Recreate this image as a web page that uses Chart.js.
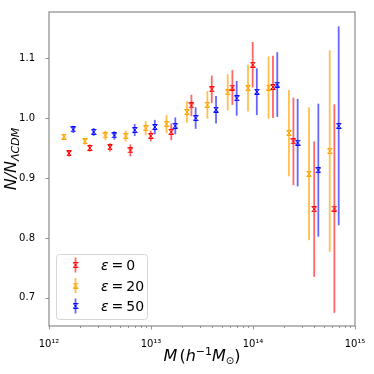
<!DOCTYPE html>
<html>
<head>
<meta charset="utf-8">
<script src="https://cdn.jsdelivr.net/npm/chart.js@4.4.1/dist/chart.umd.min.js"></script>
<style>
  html, body { margin: 0; padding: 0; background: #fff; }
</style>
</head>
<body>
<canvas id="chart" width="374" height="374"></canvas>
<script>
// values
const epsilons = [0, 20, 50];

const massEps0 = [1.57e12, 2.51e12, 3.96e12, 6.28e12, 9.93e12, 1.58e13, 2.49e13, 3.94e13, 6.28e13, 9.93e13, 1.57e14, 2.49e14, 3.98e14, 6.28e14];
const ratioEps0 = [0.941, 0.950, 0.951, 0.946, 0.970, 0.977, 1.021, 1.048, 1.051, 1.089, 1.052, 0.961, 0.848, 0.849];
const errEps0 = [0.0055, 0.006, 0.007, 0.010, 0.009, 0.014, 0.018, 0.023, 0.029, 0.038, 0.052, 0.073, 0.113, 0.174];

const massEps20 = [1.40e12, 2.25e12, 3.57e12, 5.65e12, 8.87e12, 1.42e13, 2.25e13, 3.57e13, 5.65e13, 8.93e13, 1.42e14, 2.25e14, 3.54e14, 5.65e14];
const ratioEps20 = [0.969, 0.961, 0.971, 0.970, 0.983, 0.990, 1.010, 1.022, 1.043, 1.050, 1.051, 0.975, 0.907, 0.945];
const errEps20 = [0.005, 0.0055, 0.008, 0.009, 0.012, 0.015, 0.018, 0.023, 0.030, 0.039, 0.052, 0.072, 0.111, 0.168];

const massEps50 = [1.73e12, 2.74e12, 4.37e12, 6.92e12, 1.09e13, 1.73e13, 2.74e13, 4.34e13, 6.92e13, 1.09e14, 1.73e14, 2.74e14, 4.37e14, 6.92e14];
const ratioEps50 = [0.981, 0.977, 0.971, 0.980, 0.985, 0.987, 1.000, 1.014, 1.033, 1.044, 1.056, 0.959, 0.913, 0.987];
const errEps50 = [0.006, 0.0065, 0.007, 0.010, 0.012, 0.014, 0.018, 0.023, 0.029, 0.039, 0.054, 0.073, 0.111, 0.166];

const yTicks = [0.7, 0.8, 0.9, 1.0, 1.1];
const xDecades = [1e12, 1e13, 1e14, 1e15];
const xTickLabels = ['10\u00B9\u00B2', '10\u00B9\u00B3', '10\u00B9\u2074', '10\u00B9\u2075'];

const markerColors = ['#ff0000', '#ffa500', '#0000ff'];
const barColors = ['rgba(255,0,0,0.6)', 'rgba(255,165,0,0.7)', 'rgba(0,0,255,0.6)'];
const FRAME = '#8a8a8a';
const FONT = '"DejaVu Sans", sans-serif';

function makeMarker(color) {
    const c = document.createElement('canvas');
    c.width = 6;
    c.height = 6;
    const g = c.getContext('2d');
    g.strokeStyle = color;
    g.lineWidth = 1;
    g.beginPath();
    g.moveTo(1, 1); g.lineTo(5, 5);
    g.moveTo(5, 1); g.lineTo(1, 5);
    g.moveTo(0.5, 0.5); g.lineTo(5.5, 0.5);
    g.moveTo(0.5, 5.5); g.lineTo(5.5, 5.5);
    g.stroke();
    return c;
}

function buildDataset(i, mass, ratio, err) {
    return {
        label: 'ε = ' + epsilons[i],
        data: mass.map((m, k) => ({ x: m, y: ratio[k] })),
        errors: err,
        barColor: barColors[i],
        pointStyle: makeMarker(markerColors[i]),
        pointRadius: 3,
        borderColor: markerColors[i],
        backgroundColor: markerColors[i],
        showLine: false
    };
}

// draw parts of mixed-style text one after another
function drawRich(ctx, parts, x, y, align) {
    let total = 0;
    parts.forEach(p => { ctx.font = p.font; p.w = ctx.measureText(p.t).width; total += p.w + (p.gap || 0); });
    let cx = align === 'center' ? x - total / 2 : x;
    ctx.textBaseline = 'alphabetic';
    ctx.textAlign = 'left';
    parts.forEach(p => {
        ctx.font = p.font;
        ctx.fillText(p.t, cx, y + (p.dy || 0));
        cx += p.w + (p.gap || 0);
    });
}

const errorBarPlugin = {
    id: 'errorBars',
    beforeDatasetsDraw(chart) {
        const ctx = chart.ctx;
        const xs = chart.scales.x, ys = chart.scales.y;
        ctx.save();
        chart.data.datasets.forEach(ds => {
            ctx.strokeStyle = ds.barColor;
            ctx.lineWidth = 1.8;
            ds.data.forEach((p, k) => {
                const px = xs.getPixelForValue(p.x);
                ctx.beginPath();
                ctx.moveTo(px, ys.getPixelForValue(p.y - ds.errors[k]));
                ctx.lineTo(px, ys.getPixelForValue(p.y + ds.errors[k]));
                ctx.stroke();
            });
        });
        ctx.restore();
    }
};

const framePlugin = {
    id: 'frame',
    afterDraw(chart) {
        const ctx = chart.ctx;
        const a = chart.chartArea;
        const xs = chart.scales.x, ys = chart.scales.y;
        ctx.save();
        ctx.strokeStyle = FRAME;
        ctx.lineWidth = 1.2;
        ctx.strokeRect(a.left, a.top, a.right - a.left, a.bottom - a.top);

        // tick marks
        ctx.lineWidth = 0.9;
        ctx.beginPath();
        for (let d = 1e12; d < 1e15; d *= 10) {
            for (let k = 1; k <= 9; k++) {
                const px = Math.round(xs.getPixelForValue(d * k)) + 0.5;
                ctx.moveTo(px, a.bottom);
                ctx.lineTo(px, a.bottom + (k === 1 ? 3.5 : 2));
            }
        }
        const pEnd = Math.round(xs.getPixelForValue(1e15)) + 0.5;
        ctx.moveTo(pEnd, a.bottom);
        ctx.lineTo(pEnd, a.bottom + 3.5);
        yTicks.forEach(v => {
            const py = Math.round(ys.getPixelForValue(v)) + 0.5;
            ctx.moveTo(a.left, py);
            ctx.lineTo(a.left - 3.5, py);
        });
        ctx.stroke();

        // axis titles
        ctx.fillStyle = '#000';
        drawRich(ctx, [
            { t: 'M', font: 'italic 16px ' + FONT, gap: 2 },
            { t: '(', font: '16px ' + FONT },
            { t: 'h', font: 'italic 16px ' + FONT },
            { t: '\u22121', font: '11px ' + FONT, dy: -6 },
            { t: 'M', font: 'italic 16px ' + FONT },
            { t: '\u2299', font: '10px ' + FONT, dy: 3 },
            { t: ')', font: '16px ' + FONT }
        ], (a.left + a.right) / 2, 361, 'center');

        ctx.save();
        ctx.translate(16, (a.top + a.bottom) / 2 - 10);
        ctx.rotate(-Math.PI / 2);
        drawRich(ctx, [
            { t: 'N/N', font: 'italic 16px ' + FONT },
            { t: '\u039BCDM', font: 'italic 11px ' + FONT, dy: 3 }
        ], 0, 0, 'center');
        ctx.restore();

        // legend
        const lx = 56, ly = 254, lw = 91, lh = 65;
        ctx.fillStyle = 'rgba(255,255,255,0.85)';
        ctx.strokeStyle = '#d6d6d6';
        ctx.lineWidth = 1;
        ctx.beginPath();
        ctx.roundRect(lx + 0.5, ly + 0.5, lw, lh, 3);
        ctx.fill();
        ctx.stroke();
        chart.data.datasets.forEach((ds, i) => {
            const cy = ly + 11 + i * 20.5;
            ctx.strokeStyle = ds.barColor;
            ctx.lineWidth = 1.8;
            ctx.beginPath();
            ctx.moveTo(75.5, cy - 7.5);
            ctx.lineTo(75.5, cy + 7.5);
            ctx.stroke();
            ctx.drawImage(ds.pointStyle, 75.5 - 3, cy - 3);
            ctx.fillStyle = '#000';
            drawRich(ctx, [
                { t: 'ε', font: 'italic 14px ' + FONT, gap: 3 },
                { t: '=', font: '14px ' + FONT, gap: 3 },
                { t: String(epsilons[i]), font: '14px ' + FONT }
            ], 101, cy + 5, 'left');
        });
        ctx.restore();
    }
};

new Chart(document.getElementById('chart'), {
    type: 'scatter',
    data: {
        datasets: [
            buildDataset(0, massEps0, ratioEps0, errEps0),
            buildDataset(1, massEps20, ratioEps20, errEps20),
            buildDataset(2, massEps50, ratioEps50, errEps50)
        ]
    },
    options: {
        responsive: false,
        animation: false,
        devicePixelRatio: 1,
        layout: { padding: { left: 0, right: 19, top: 9, bottom: 0 } },
        plugins: {
            legend: { display: false },
            tooltip: { enabled: false }
        },
        scales: {
            x: {
                type: 'logarithmic',
                min: 1e12,
                max: 1e15,
                grid: { display: false },
                border: { display: false },
                afterBuildTicks: (scale) => {
                    const t = [];
                    for (let d = 1e12; d < 1e15; d *= 10) {
                        for (let k = 1; k <= 9; k++) t.push({ value: d * k });
                    }
                    t.push({ value: 1e15 });
                    scale.ticks = t;
                },
                afterFit: (scale) => { scale.height = 48; },
                ticks: {
                    autoSkip: false,
                    maxRotation: 0,
                    padding: 4,
                    color: '#000',
                    font: { family: FONT, size: 10 },
                    callback: (v) => {
                        const i = xDecades.indexOf(v);
                        return i >= 0 ? xTickLabels[i] : '';
                    }
                }
            },
            y: {
                min: 0.653,
                max: 1.177,
                grid: { display: false },
                border: { display: false },
                afterBuildTicks: (scale) => { scale.ticks = yTicks.map(v => ({ value: v })); },
                afterFit: (scale) => { scale.width = 49; },
                ticks: {
                    padding: 6,
                    color: '#000',
                    font: { family: FONT, size: 10 },
                    callback: (v) => v.toFixed(1)
                }
            }
        }
    },
    plugins: [errorBarPlugin, framePlugin]
});
</script>
</body>
</html>
